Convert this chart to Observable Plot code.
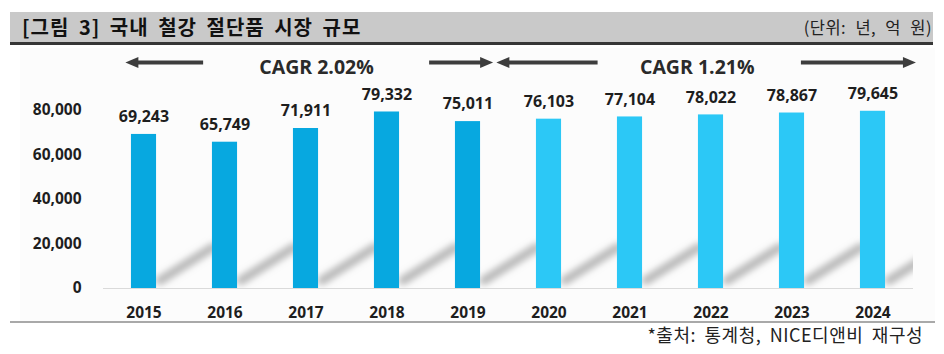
<!DOCTYPE html>
<html><head><meta charset="utf-8">
<script src="https://cdn.jsdelivr.net/npm/d3@7"></script>
<script src="https://cdn.jsdelivr.net/npm/@observablehq/plot@0.6"></script>
<style>
body{margin:0;background:#fff;width:944px;height:354px;position:relative;overflow:hidden;font-family:"Noto Sans CJK KR","Noto Sans",sans-serif;}
#titlebar{position:absolute;left:10px;top:12px;width:923px;height:30px;background:#c9c9c9;border-bottom:3px solid #363636;}
#title{position:absolute;left:12px;top:0;line-height:30px;font-size:20px;font-weight:700;color:#111;letter-spacing:1px;word-spacing:4px;}
#unit{position:absolute;right:1px;top:0;line-height:30px;font-size:16.5px;color:#222;letter-spacing:0.5px;word-spacing:5px;}
#bg{position:absolute;left:20px;top:48px;width:915px;height:273px;background:#fcfcfc;}
#chart{position:absolute;left:0;top:48px;}
#rule{position:absolute;left:10px;top:321px;width:925px;height:2px;background:#a9a9a9;}
#caption{position:absolute;right:21px;top:323px;font-size:18px;color:#222;line-height:22px;letter-spacing:0.5px;word-spacing:4px;}
</style></head>
<body>
<div id="titlebar"><div id="title">[그림 3] 국내 철강 절단품 시장 규모</div><div id="unit">(단위: 년, 억 원)</div></div>
<div id="bg"></div>
<div id="chart"></div>
<div id="rule"></div>
<div id="caption">*출처: 통계청, NICE디앤비 재구성</div>
<script>
// ---- data ----
const years = [2015, 2016, 2017, 2018, 2019, 2020, 2021, 2022, 2023, 2024];
const values = [69243, 65749, 71911, 79332, 75011, 76103, 77104, 78022, 78867, 79645];
const yTicks = [0, 20000, 40000, 60000, 80000];
const forecastFrom = 2020;
const cagrLabels = ["CAGR 2.02%", "CAGR 1.21%"];
const cagrLabelX = [2017.13, 2021.83];
const arrowTails = [2015.73, 2018.52, 2020.60, 2023.11];
const arrowTips = [2014.77, 2019.31, 2019.35, 2024.53];

const colorActual = "#07a8e0";
const colorForecast = "#2cc8f6";
const shadowColor = "#b9b9b9";
const barHalf = 0.155;
const topY = 80000;
const fmt = d3.format(",");

const data = years.map((year, i) => ({year, value: values[i], forecast: year >= forecastFrom}));
const arrows = arrowTips.map((tip, i) => ({tail: arrowTails[i], tip, dir: tip < arrowTails[i] ? -90 : 90}));
const labels = cagrLabels.map((label, i) => ({label, x: cagrLabelX[i]}));

const lineShape = {draw(context, l) { context.moveTo(0, 0); context.lineTo(0, -l); }};

const chart = Plot.plot({
  width: 944, height: 274,
  marginLeft: 103, marginRight: 31, marginTop: 62, marginBottom: 34,
  x: {domain: [2014.5, 2024.5], ticks: years, tickFormat: d => String(d), tickSize: 0, tickPadding: 18, label: null},
  y: {domain: [0, 80000], ticks: yTicks, tickFormat: fmt, tickSize: 0, tickPadding: 22, label: null},
  style: {fontFamily: '"Open Sans", "Noto Sans", sans-serif', fontSize: "15.5px", fontWeight: 700, color: "#1e1e1e", background: "transparent", overflow: "visible"},
  marks: [
    Plot.ruleY([0], {stroke: "#dadada"}),
    Plot.vector(data, {x: "year", y: () => 0, length: 62, rotate: 57.8, anchor: "start", dx: 16, dy: -8,
      shape: lineShape, stroke: shadowColor, strokeWidth: 9, strokeLinecap: "round", clip: true}),
    Plot.rectY(data, {x1: d => d.year - barHalf, x2: d => d.year + barHalf, y1: () => 0, y2: "value",
      fill: d => d.forecast ? colorForecast : colorActual}),
    Plot.text(data, {x: "year", y: "value", text: d => fmt(d.value), dy: -17.5, fontSize: 16, fill: "#1e1e1e"}),
    Plot.arrow(arrows, {x1: "tail", x2: "tip", y1: () => topY, y2: () => topY, dy: -48,
      stroke: "#3d3d3d", strokeWidth: 4, headLength: 0, insetEnd: 9, strokeLinecap: "butt"}),
    Plot.vector(arrows, {x: "tip", y: () => topY, dy: -48, rotate: "dir", anchor: "end", shape: "spike",
      length: 13, r: 5.5, fill: "#3d3d3d", stroke: "none"}),
    Plot.text(labels, {x: "x", y: () => topY, dy: -43, text: "label", fontSize: 19.5, fill: "#2a2a2a"})
  ]
});

const svg = d3.select(chart);
const defs = svg.insert("defs", ":first-child");
defs.append("filter").attr("id", "shadowBlur")
  .attr("filterUnits", "userSpaceOnUse")
  .attr("x", -40).attr("y", -120).attr("width", 80).attr("height", 180)
  .append("feGaussianBlur").attr("stdDeviation", 3.2);
svg.selectAll("g").filter(function() { return this.getAttribute("stroke") === shadowColor; })
  .selectAll("path").attr("filter", "url(#shadowBlur)");

document.getElementById("chart").appendChild(chart);
</script>
</body></html>
